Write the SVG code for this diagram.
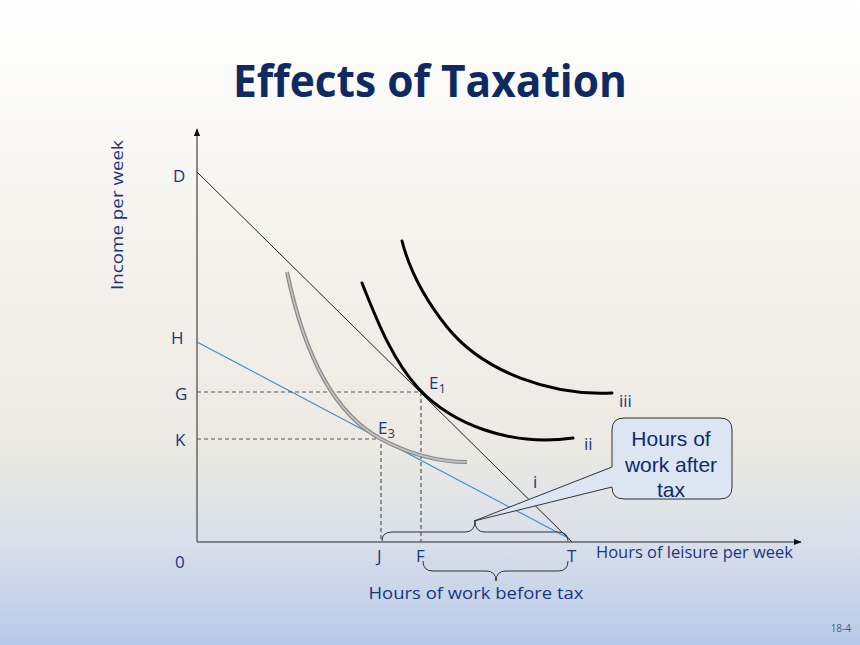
<svg xmlns="http://www.w3.org/2000/svg" width="860" height="645" viewBox="0 0 860 645">
<defs>
<linearGradient id="bg" x1="0" y1="0" x2="0" y2="1">
<stop offset="0" stop-color="#ffffff"/>
<stop offset="0.4" stop-color="#f4f2ec"/>
<stop offset="0.68" stop-color="#eceae2"/>
<stop offset="0.84" stop-color="#d9dfea"/>
<stop offset="1" stop-color="#b8cae9"/>
</linearGradient>
<marker id="arr" viewBox="0 0 10 10" refX="9" refY="5" markerWidth="8" markerHeight="8" markerUnits="userSpaceOnUse" orient="auto">
<path d="M0,1 L10,5 L0,9 Z" fill="#111"/>
</marker>
<style>
.lbl{font-family:"Open Sans","Liberation Sans",sans-serif;font-size:17px;fill:#1b3580}
.axis{stroke:#666;stroke-width:1.5;fill:none}
.dash{stroke:#555;stroke-width:1.2;stroke-dasharray:4 3;fill:none}
.ic{stroke:#000;stroke-width:3;fill:none;stroke-linecap:round}
.brace{stroke:#333;stroke-width:1;fill:none}
</style>
</defs>
<rect width="860" height="645" fill="url(#bg)"/>
<text x="430" y="97" text-anchor="middle" font-family="'Open Sans','Liberation Sans',sans-serif" font-weight="bold" font-size="44" fill="#0f2a62" textLength="394" lengthAdjust="spacingAndGlyphs">Effects of Taxation</text>

<g id="axes">
<line class="axis" x1="197" y1="542" x2="197" y2="129" marker-end="url(#arr)"/>
<line class="axis" x1="197" y1="542" x2="801" y2="542" marker-end="url(#arr)"/>
<text class="lbl" transform="translate(123,215) rotate(-90)" text-anchor="middle" textLength="150" lengthAdjust="spacingAndGlyphs">Income per week</text>
<text class="lbl" x="596" y="558" font-size="15" textLength="197" lengthAdjust="spacingAndGlyphs">Hours of leisure per week</text>
<text class="lbl" x="173" y="182">D</text>
<text class="lbl" x="171" y="344">H</text>
<text class="lbl" x="175" y="400">G</text>
<text class="lbl" x="175" y="446">K</text>
<text class="lbl" x="175" y="568">0</text>
<text class="lbl" x="377" y="562">J</text>
<text class="lbl" x="416" y="562">F</text>
<text class="lbl" x="567" y="562">T</text>
</g>

<g id="connectors">
<line x1="197" y1="172" x2="572" y2="542" stroke="#222" stroke-width="1"/>
<line x1="197" y1="342" x2="570" y2="539" stroke="#3a8ad0" stroke-width="1.1"/>
<polyline class="dash" points="197,392 421,392 421,542"/>
<polyline class="dash" points="197,439 381,439 381,542"/>
</g>

<g id="curve-iii">
<path class="ic" d="M402,241 C410,272 427,302 447,327 C484,373 553,396 612,393"/>
<text class="lbl" x="619" y="407">iii</text>
</g>
<g id="curve-ii">
<path class="ic" d="M362,283 C376,318 392,360 419,389 C452,424 510,447 573,438"/>
<text class="lbl" x="584" y="450">ii</text>
</g>
<g id="curve-i">
<path d="M287,272 C300,335 325,409 381,439 C407,453 437,462 467,462" stroke="#8a8a8a" stroke-width="4" fill="none"/>
<path d="M287,272 C300,335 325,409 381,439 C407,453 437,462 467,462" stroke="#c4c4c4" stroke-width="1.5" fill="none"/>
<text class="lbl" x="533" y="488">i</text>
</g>

<g id="E1">
<text class="lbl" x="429" y="389">E<tspan font-size="13" dy="4">1</tspan></text>
</g>
<g id="E3">
<text class="lbl" x="378" y="434">E<tspan font-size="13" dy="4">3</tspan></text>
</g>

<g id="brace-after">
<path class="brace" d="M382,541 Q382,532 392,532 L465,532 Q475,532 475,521 Q475,532 485,532 L558,532 Q568,532 568,541"/>
</g>
<g id="brace-before">
<path class="brace" d="M423,561 Q423,571 433,571 L486,571 Q496,571 496,581 Q496,571 506,571 L558,571 Q568,571 568,561"/>
<text class="lbl" x="476" y="599" font-size="17" text-anchor="middle" textLength="215" lengthAdjust="spacingAndGlyphs">Hours of work before tax</text>
</g>

<g id="callout">
<path d="M624,418 H720 Q732,418 732,430 V487 Q732,499 720,499 H624 Q612,499 612,487 L474,521 L612,467 V430 Q612,418 624,418 Z" fill="#dce6f2" stroke="#333" stroke-width="1"/>
<g font-family="'Liberation Sans',Arial,sans-serif" font-size="21" fill="#0f2a6b" text-anchor="middle">
<text x="671" y="446">Hours of</text>
<text x="671" y="472">work after</text>
<text x="671" y="497">tax</text>
</g>
</g>

<text x="851" y="632" text-anchor="end" font-family="'Open Sans','Liberation Sans',sans-serif" font-size="10" fill="#4a5a80">18-4</text>
</svg>
